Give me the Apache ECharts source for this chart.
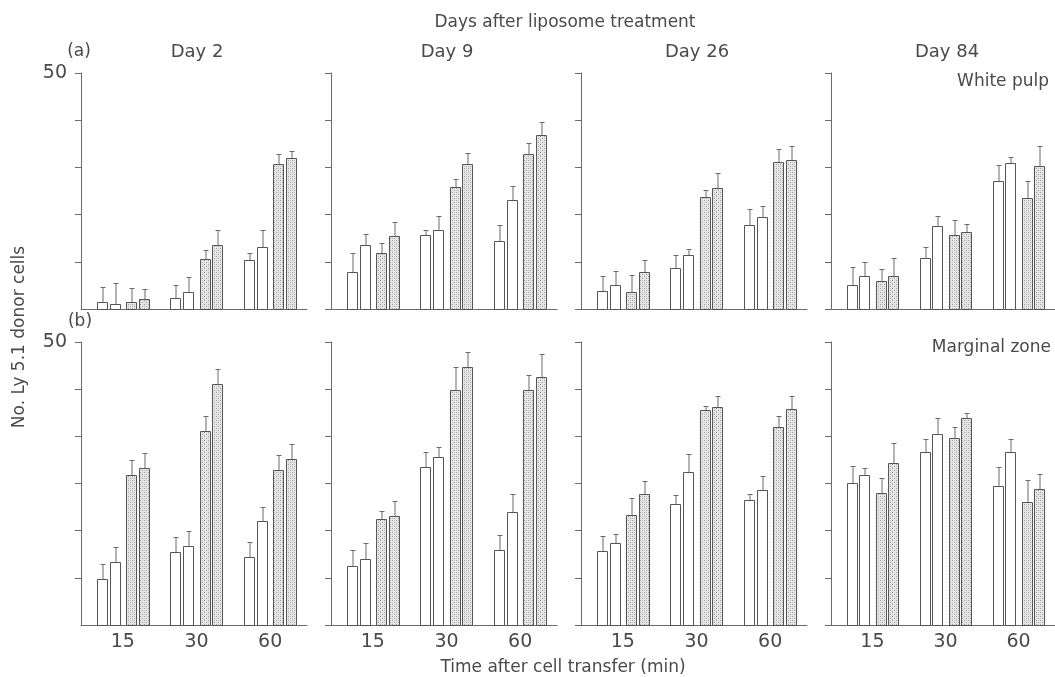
<!DOCTYPE html>
<html>
<head>
<meta charset="utf-8">
<script src="https://cdn.jsdelivr.net/npm/echarts@6/dist/echarts.min.js"></script>
<style>
html,body{margin:0;padding:0;background:#fff;}
#chart{width:1055px;height:677px;}
</style>
</head>
<body>
<div id="chart"></div>
<script>
// ---------- DATA ----------
const groups = ['15', '30', '60'];           // time after cell transfer (min)
const days = ['Day 2', 'Day 9', 'Day 26', 'Day 84'];
// each array: 3 groups x 4 bars (white, white, stippled, stippled)
// (a) White pulp
const wpDay2Mean  = [1.5, 1.1, 1.5, 2.2,   2.4, 3.7, 10.6, 13.5,   10.3, 13.2, 30.7, 32.0];
const wpDay2Err   = [3.1, 4.5, 3.0, 2.1,   2.7, 3.1, 1.9, 3.2,     1.5, 3.6, 2.1, 1.5];
const wpDay9Mean  = [7.9, 13.5, 11.9, 15.4,  15.6, 16.8, 25.8, 30.8,  14.4, 23.0, 32.9, 36.8];
const wpDay9Err   = [3.9, 2.3, 2.0, 3.0,     1.2, 3.0, 1.7, 2.3,      3.3, 3.1, 2.2, 2.9];
const wpDay26Mean = [3.9, 5.0, 3.7, 7.9,   8.6, 11.5, 23.8, 25.6,   17.7, 19.5, 31.1, 31.5];
const wpDay26Err  = [3.1, 3.0, 3.5, 2.5,   2.9, 1.2, 1.5, 3.2,      3.4, 2.3, 2.8, 3.1];
const wpDay84Mean = [5.0, 6.9, 6.0, 7.0,   10.8, 17.5, 15.6, 16.4,  27.1, 31.0, 23.5, 30.3];
const wpDay84Err  = [3.9, 3.1, 2.4, 3.7,   2.3, 2.2, 3.2, 1.6,      3.5, 1.3, 3.6, 4.3];
// (b) Marginal zone
const mzDay2Mean  = [8.2, 11.1, 26.5, 27.8,  12.9, 13.9, 34.3, 42.5,  12.0, 18.3, 27.4, 29.3];
const mzDay2Err   = [2.6, 2.7, 2.6, 2.6,     2.7, 2.7, 2.6, 2.7,      2.7, 2.6, 2.6, 2.6];
const mzDay9Mean  = [10.5, 11.7, 18.7, 19.2,  27.9, 29.7, 41.5, 45.5,  13.2, 19.9, 41.5, 43.8];
const mzDay9Err   = [2.7, 2.7, 1.5, 2.7,      2.7, 1.7, 4.0, 2.7,      2.7, 3.3, 2.6, 4.1];
const mzDay26Mean = [13.1, 14.4, 19.5, 23.2,  21.4, 27.0, 37.9, 38.5,  22.0, 23.8, 35.0, 38.1];
const mzDay26Err  = [2.6, 1.7, 2.9, 2.3,      1.6, 3.3, 0.8, 1.9,      1.2, 2.6, 1.9, 2.3];
const mzDay84Mean = [25.1, 26.5, 23.3, 28.7,  30.5, 33.7, 33.1, 36.5,  24.5, 30.5, 21.8, 24.1];
const mzDay84Err  = [3.0, 1.3, 2.6, 3.5,      2.3, 2.9, 1.8, 0.9,      3.4, 2.4, 3.8, 2.5];

const rowLabels = ['(a)', '(b)'];
const regionLabels = ['White pulp', 'Marginal zone'];
const yTopLabel = '50';
const rowMax = [50, 50];
const rowTickCount = [5, 6];

const panels = [
  [[wpDay2Mean, wpDay2Err], [wpDay9Mean, wpDay9Err], [wpDay26Mean, wpDay26Err], [wpDay84Mean, wpDay84Err]],
  [[mzDay2Mean, mzDay2Err], [mzDay9Mean, mzDay9Err], [mzDay26Mean, mzDay26Err], [mzDay84Mean, mzDay84Err]]
];

// ---------- STYLE / LAYOUT ----------
const FONT = 'DejaVu Sans';
const TXT = '#4a4a4a';
const LINE = '#6a6a6a';
const colX = [81, 331, 581, 831];
const rowTop = [73, 342];
const rowH = [236, 283];
const gridW = 226;
const BAND_PX = 221 / 3;
const X_MIN = -0.5 - 5 / BAND_PX;
// bar left offsets & width (in band units)
const OFFS = [-0.353, -0.180, 0.045, 0.214];
const BARW = 0.1425;

// stipple pattern
const pc = document.createElement('canvas');
pc.width = 4; pc.height = 4;
const pctx = pc.getContext('2d');
pctx.fillStyle = '#e6e6e6'; pctx.fillRect(0, 0, 4, 4);
pctx.fillStyle = '#a0a0a0';
pctx.fillRect(0, 0, 1, 1); pctx.fillRect(2, 2, 1, 1);
pctx.fillStyle = '#c8c8c8';
pctx.fillRect(2, 0, 1, 1); pctx.fillRect(0, 2, 1, 1);
const stipple = { image: pc, repeat: 'repeat' };

function renderItem(params, api) {
  const g = api.value(0), b = api.value(1), v = api.value(2), e = api.value(3);
  const base = api.coord([g, 0]);
  const top = api.coord([g, v])[1];
  const etop = api.coord([g, v + e])[1];
  const unit = api.size([1, 0])[0];
  const x = Math.round(base[0] + OFFS[b] * unit) + 0.5;
  const w = Math.round(BARW * unit);
  const yTop = Math.round(top) + 0.5;
  const yb = Math.round(base[1]) + 0.5;
  const cx = Math.round(x + w / 2);
  const ey = Math.round(etop) + 0.5;
  return {
    type: 'group',
    children: [
      { type: 'line', shape: { x1: cx, y1: yTop, x2: cx, y2: ey }, style: { stroke: LINE, lineWidth: 1 } },
      { type: 'line', shape: { x1: cx - 2.5, y1: ey, x2: cx + 2.5, y2: ey }, style: { stroke: LINE, lineWidth: 1 } },
      { type: 'rect', shape: { x: x, y: yTop, width: w, height: yb - yTop },
        style: { fill: b < 2 ? '#ffffff' : stipple, stroke: '#555555', lineWidth: 1 } }
    ]
  };
}

const grid = [], xAxis = [], yAxis = [], series = [];
for (let r = 0; r < 2; r++) {
  for (let c = 0; c < 4; c++) {
    const idx = grid.length;
    grid.push({ left: colX[c], top: rowTop[r], width: gridW, height: rowH[r], containLabel: false });
    xAxis.push({
      gridIndex: idx, type: 'value', min: X_MIN, max: 2.5,
      axisLine: { show: true, onZero: false, lineStyle: { color: LINE, width: 1 } },
      axisTick: { show: false },
      splitLine: { show: false },
      axisLabel: {
        show: r === 1,
        customValues: [0, 1, 2],
        formatter: (v) => groups[Math.round(v)] || '',
        fontFamily: FONT, fontSize: 19, color: TXT, margin: 8
      }
    });
    const mx = rowMax[r];
    yAxis.push({
      gridIndex: idx, type: 'value', min: 0, max: mx, interval: mx / rowTickCount[r],
      axisLine: { show: true, onZero: false, lineStyle: { color: LINE, width: 1 } },
      axisTick: { show: true, inside: false, length: 6, lineStyle: { color: LINE } },
      splitLine: { show: false },
      axisLabel: {
        show: c === 0,
        showMinLabel: false,
        formatter: (v) => (Math.abs(v - mx) < 1e-6 ? yTopLabel : ''),
        fontFamily: FONT, fontSize: 19, color: TXT, margin: 14
      }
    });
    const [means, errs] = panels[r][c];
    const data = means.map((m, i) => [Math.floor(i / 4), i % 4, m, errs[i]]);
    series.push({
      type: 'custom', xAxisIndex: idx, yAxisIndex: idx,
      renderItem: renderItem, data: data, clip: false, silent: true
    });
  }
}

const txt = (text, x, y, size, align, extra) => Object.assign({
  type: 'text', x: x, y: y, silent: true,
  style: { text: text, fontFamily: FONT, fontSize: size, fill: TXT, align: align || 'center', verticalAlign: 'middle' }
}, extra || {});

const graphic = [
  txt('Days after liposome treatment', 565, 23, 17),
  txt(rowLabels[0], 79, 52, 17),
  txt(rowLabels[1], 80, 322, 17),
  txt(regionLabels[0], 1049, 82, 17, 'right'),
  txt(regionLabels[1], 1051, 348, 17, 'right'),
  txt('Time after cell transfer (min)', 563, 668, 17),
  txt('No. Ly 5.1 donor cells', 20, 337, 17, 'center', { rotation: Math.PI / 2 })
];
days.forEach((d, c) => graphic.push(txt(d, colX[c] + 116, 52, 18)));

const chart = echarts.init(document.getElementById('chart'), null, { renderer: 'canvas' });
chart.setOption({
  animation: false,
  backgroundColor: '#ffffff',
  grid: grid, xAxis: xAxis, yAxis: yAxis, series: series,
  graphic: graphic
});
</script>
</body>
</html>
